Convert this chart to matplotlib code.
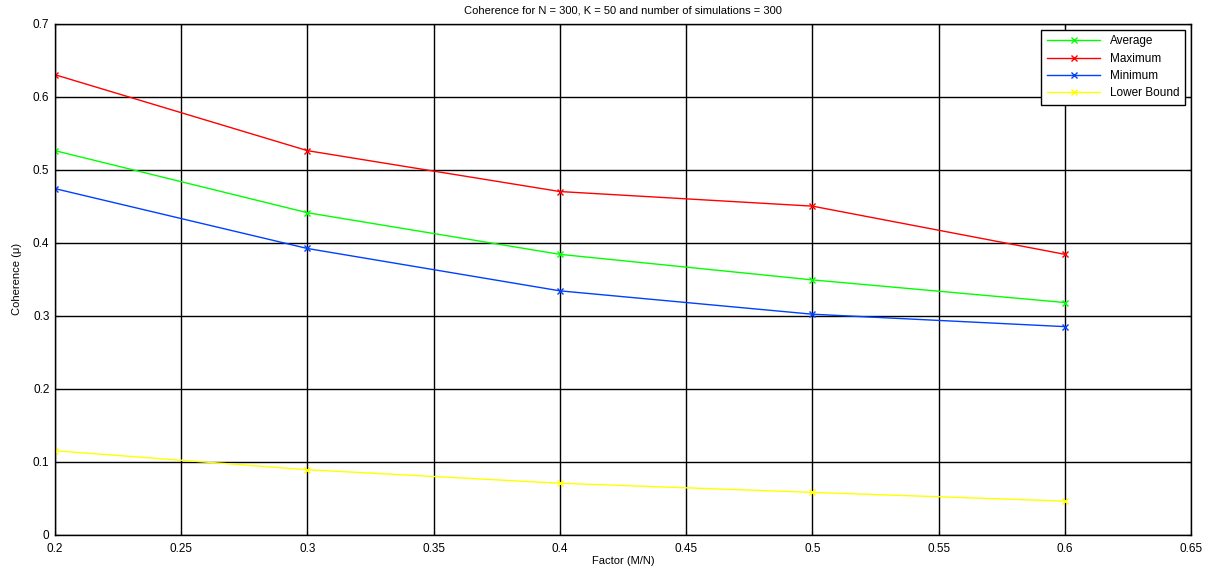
import matplotlib
matplotlib.use("Agg")
import matplotlib.pyplot as plt

factors = [0.2, 0.3, 0.4, 0.5, 0.6]
average = [0.526, 0.441, 0.384, 0.349, 0.318]
maximum = [0.630, 0.526, 0.470, 0.450, 0.384]
minimum = [0.474, 0.392, 0.334, 0.302, 0.285]
lower_bound = [0.115, 0.089, 0.0705, 0.058, 0.046]
xticks = [0.2, 0.25, 0.3, 0.35, 0.4, 0.45, 0.5, 0.55, 0.6, 0.65]
yticks = [0, 0.1, 0.2, 0.3, 0.4, 0.5, 0.6, 0.7]

plt.rcParams['font.family'] = ['Liberation Sans', 'DejaVu Sans']

fig = plt.figure(figsize=(12.13, 5.73), dpi=100)
ax = fig.add_axes([0.0453, 0.0668, 0.9367, 0.892])

series = [(average, '#00ff00', 'Average'),
          (maximum, '#ff0000', 'Maximum'),
          (minimum, '#0040ff', 'Minimum'),
          (lower_bound, '#ffff00', 'Lower Bound')]
for vals, c, lab in series:
    ax.plot(factors, vals, color=c, marker='x', markersize=4, linewidth=1, label=lab)

ax.set_xlim(0.2, 0.65)
ax.set_ylim(0, 0.7)
ax.set_xticks(xticks)
ax.set_xticklabels([f"{t:g}" for t in xticks])
ax.set_yticks(yticks)
ax.set_yticklabels([f"{t:g}" for t in yticks])
ax.grid(True, color='black', linewidth=1, linestyle='-')
ax.set_axisbelow(True)
ax.tick_params(direction='in', labelsize=8.5, length=3, top=True, right=True)
ax.tick_params(axis='x', pad=6)
ax.tick_params(axis='y', pad=4)
for s in ax.spines.values():
    s.set_color('black')
    s.set_linewidth(1)

ax.set_title('Coherence for N = 300, K = 50 and number of simulations = 300', fontsize=8, pad=7)
ax.set_xlabel('Factor (M/N)', fontsize=8, labelpad=1)
ax.set_ylabel('Coherence (\u03bc)', fontsize=8)
ax.yaxis.set_label_coords(-0.029, 0.5)

leg = ax.legend(loc='upper right', fontsize=8.5, frameon=True, fancybox=False,
                edgecolor='black', framealpha=1, borderaxespad=0.5,
                handlelength=4.5, labelspacing=0.45, borderpad=0.5)
leg.get_frame().set_linewidth(1)

fig.savefig('out.png', dpi=100)
